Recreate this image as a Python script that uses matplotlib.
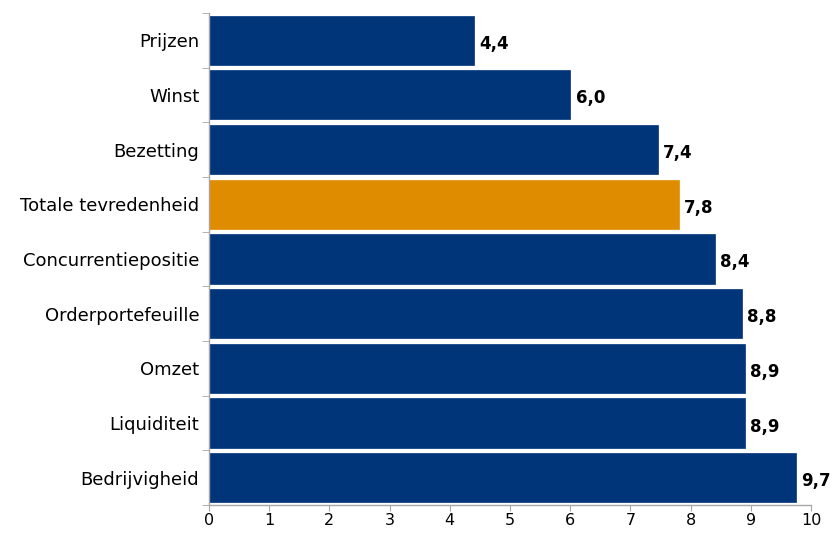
import matplotlib.pyplot as plt
import numpy as np

# data (top to bottom)
categories = ['Prijzen', 'Winst', 'Bezetting', 'Totale tevredenheid',
              'Concurrentiepositie', 'Orderportefeuille', 'Omzet',
              'Liquiditeit', 'Bedrijvigheid']
values = [4.4, 6.0, 7.45, 7.8, 8.4, 8.85, 8.9, 8.9, 9.75]
labels = ['4,4', '6,0', '7,4', '7,8', '8,4', '8,8', '8,9', '8,9', '9,7']
highlight = 'Totale tevredenheid'


def main():
    blue = '#003579'
    orange = '#E08C00'
    grey = '#A6A6A6'

    fig = plt.figure(figsize=(8.32, 5.34), dpi=100)
    ax = fig.add_axes([0.2512, 0.054, 0.7236, 0.922])

    y = np.arange(len(categories))
    colors = [orange if c == highlight else blue for c in categories]
    ax.barh(y, values, height=0.9, color=colors, edgecolor=colors, linewidth=0.5)

    for yi, v, lab in zip(y, values, labels):
        ax.annotate(lab, (v, yi), xytext=(4, -2.5), textcoords='offset points',
                    ha='left', va='center', fontsize=12, fontweight='bold')

    ax.set_ylim(len(categories) - 0.5, -0.5)
    ax.set_xlim(0, 10)
    ax.set_xticks(range(0, 11))
    ax.set_yticks(y)
    ax.set_yticklabels(categories, fontsize=13)
    ax.set_yticks(np.arange(-0.5, len(categories), 1), minor=True)
    ax.tick_params(axis='y', which='major', length=0, pad=7)
    ax.tick_params(axis='y', which='minor', length=5, color=grey)
    ax.tick_params(axis='x', length=4, color=grey, labelsize=11.5, pad=1.5)

    for s in ['top', 'right']:
        ax.spines[s].set_visible(False)
    for s in ['left', 'bottom']:
        ax.spines[s].set_color(grey)
        ax.spines[s].set_linewidth(1)

    plt.savefig('out.png', dpi=100)


if __name__ == '__main__':
    main()
